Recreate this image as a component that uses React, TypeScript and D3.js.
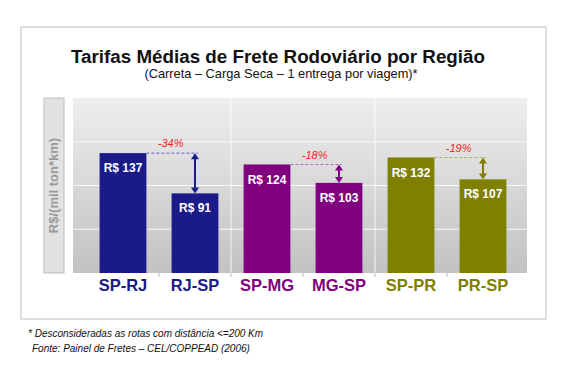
import { useEffect, useRef } from "react";
import { select, scaleBand, scaleLinear } from "d3";

const categories = ["SP-RJ", "RJ-SP", "SP-MG", "MG-SP", "SP-PR", "PR-SP"];
const values = [137, 91, 124, 103, 132, 107];
const pairChanges = ["-34%", "-18%", "-19%"];
const yTicks = [50, 100, 150];

const pairColors = ["#1a1a88", "#800080", "#7f7f00"];
const pairDash = ["#7a7acc", "#b070b8", "#b0b060"];

export default function App() {
  const svgRef = useRef<SVGSVGElement>(null);

  useEffect(() => {
    const svg = svgRef.current;
    if (svg === null) return;
    const root = select(svg);
    root.selectAll("*").remove();

    const left = 73, right = 527, top = 98, bottom = 273;

    const x = scaleBand<string>().domain(categories).range([87, 519]).paddingInner(0.35).paddingOuter(0.175);
    const y = scaleLinear().domain([0, 200]).range([bottom, top]);
    const bw = x.bandwidth();

    const defs = root.append("defs");
    const grad = defs.append("linearGradient").attr("id", "bg").attr("x1", 0).attr("y1", 0).attr("x2", 0).attr("y2", 1);
    grad.append("stop").attr("offset", "0%").attr("stop-color", "#eeeeee");
    grad.append("stop").attr("offset", "100%").attr("stop-color", "#c2c2c2");

    // outer frame
    root.append("rect").attr("x", 21).attr("y", 27).attr("width", 525).attr("height", 292)
      .attr("fill", "white").attr("stroke", "#d4d4d4").attr("stroke-width", 1.5);

    // title
    root.append("text").attr("x", 278).attr("y", 63).attr("text-anchor", "middle")
      .attr("font-family", "Liberation Sans, Arial, sans-serif").attr("font-weight", "bold").attr("font-size", 18.8)
      .attr("fill", "#111").text("Tarifas Médias de Frete Rodoviário por Região");
    root.append("text").attr("x", 281).attr("y", 78).attr("text-anchor", "middle")
      .attr("font-family", "Liberation Sans, Arial, sans-serif").attr("font-size", 12.8)
      .attr("fill", "#111").text("(Carreta – Carga Seca – 1 entrega por viagem)*");

    // y label box
    root.append("rect").attr("x", 44).attr("y", top).attr("width", 20).attr("height", bottom - top)
      .attr("fill", "#e2e2e2").attr("stroke", "#bdbdbd").attr("stroke-width", 1);
    root.append("text").attr("transform", `translate(58, ${(top + bottom) / 2}) rotate(-90)`)
      .attr("text-anchor", "middle").attr("font-family", "Liberation Sans, Arial, sans-serif")
      .attr("font-weight", "bold").attr("font-size", 13).attr("fill", "#9a9a9a").text("R$/(mil ton*km)");

    // plot background
    root.append("rect").attr("x", left).attr("y", top).attr("width", right - left).attr("height", bottom - top)
      .attr("fill", "url(#bg)");
    root.selectAll("line.grid").data(yTicks).join("line").attr("class", "grid")
      .attr("x1", left).attr("x2", right).attr("y1", d => y(d)).attr("y2", d => y(d))
      .attr("stroke", "white").attr("stroke-width", 1.2).attr("opacity", 0.85);

    // group separators and ticks
    const mids = categories.slice(1).map((c, i) => (x(categories[i])! + bw + x(c)!) / 2);
    root.selectAll("line.sep").data(mids.filter((_, i) => i % 2 === 1)).join("line").attr("class", "sep")
      .attr("x1", d => d).attr("x2", d => d).attr("y1", top).attr("y2", bottom)
      .attr("stroke", "white").attr("stroke-width", 1).attr("opacity", 0.8);
    root.selectAll("line.tick").data(mids).join("line").attr("class", "tick")
      .attr("x1", d => d).attr("x2", d => d).attr("y1", bottom).attr("y2", bottom + 4)
      .attr("stroke", "#bbb").attr("stroke-width", 1);

    // bars
    root.selectAll("rect.bar").data(values).join("rect").attr("class", "bar")
      .attr("x", (_, i) => x(categories[i])!).attr("y", d => y(d))
      .attr("width", bw).attr("height", d => bottom - y(d))
      .attr("fill", (_, i) => pairColors[Math.floor(i / 2)]);

    root.selectAll("text.val").data(values).join("text").attr("class", "val")
      .attr("x", (_, i) => x(categories[i])! + bw / 2).attr("y", d => y(d) + 19)
      .attr("text-anchor", "middle").attr("font-family", "Liberation Sans, Arial, sans-serif")
      .attr("font-weight", "bold").attr("font-size", 12).attr("fill", "white")
      .text(d => `R$ ${d}`);

    root.selectAll("text.cat").data(categories).join("text").attr("class", "cat")
      .attr("x", d => x(d)! + bw / 2).attr("y", 291)
      .attr("text-anchor", "middle").attr("font-family", "Liberation Sans, Arial, sans-serif")
      .attr("font-weight", "bold").attr("font-size", 16.5)
      .attr("fill", (_, i) => pairColors[Math.floor(i / 2)]).text(d => d);

    // change annotations
    pairChanges.forEach((label, p) => {
      const a = categories[p * 2], b = categories[p * 2 + 1];
      const ya = y(values[p * 2]), yb = y(values[p * 2 + 1]);
      const xa = x(a)! + bw, xb = x(b)! + bw / 2;
      const col = pairColors[p];
      root.append("line").attr("x1", xa).attr("x2", xb + 3).attr("y1", ya).attr("y2", ya)
        .attr("stroke", pairDash[p]).attr("stroke-width", 1.2).attr("stroke-dasharray", "3,2");
      const hw = 4, hh = 6;
      root.append("line").attr("x1", xb).attr("x2", xb).attr("y1", ya + hh - 1).attr("y2", yb - hh + 1)
        .attr("stroke", col).attr("stroke-width", 2);
      root.append("path").attr("d", `M${xb},${ya} L${xb - hw},${ya + hh} L${xb + hw},${ya + hh} Z`).attr("fill", col);
      root.append("path").attr("d", `M${xb},${yb} L${xb - hw},${yb - hh} L${xb + hw},${yb - hh} Z`).attr("fill", col);
      root.append("text").attr("x", (xa + xb) / 2).attr("y", ya - 6).attr("text-anchor", "middle")
        .attr("font-family", "Liberation Sans, Arial, sans-serif").attr("font-style", "italic")
        .attr("font-size", 11).attr("fill", "#ee2222").text(label);
    });

    // footer
    root.append("text").attr("x", 28).attr("y", 337)
      .attr("font-family", "Liberation Sans, Arial, sans-serif").attr("font-style", "italic")
      .attr("font-size", 10).attr("fill", "#111").text("* Desconsideradas as rotas com distância <=200 Km");
    root.append("text").attr("x", 32).attr("y", 352)
      .attr("font-family", "Liberation Sans, Arial, sans-serif").attr("font-style", "italic")
      .attr("font-size", 10).attr("fill", "#111").text("Fonte: Painel de Fretes – CEL/COPPEAD (2006)");
  }, []);

  return (
    <svg
      ref={svgRef}
      width={562}
      height={372}
      style={{ position: "absolute", left: 0, top: 0, background: "white" }}
    />
  );
}
